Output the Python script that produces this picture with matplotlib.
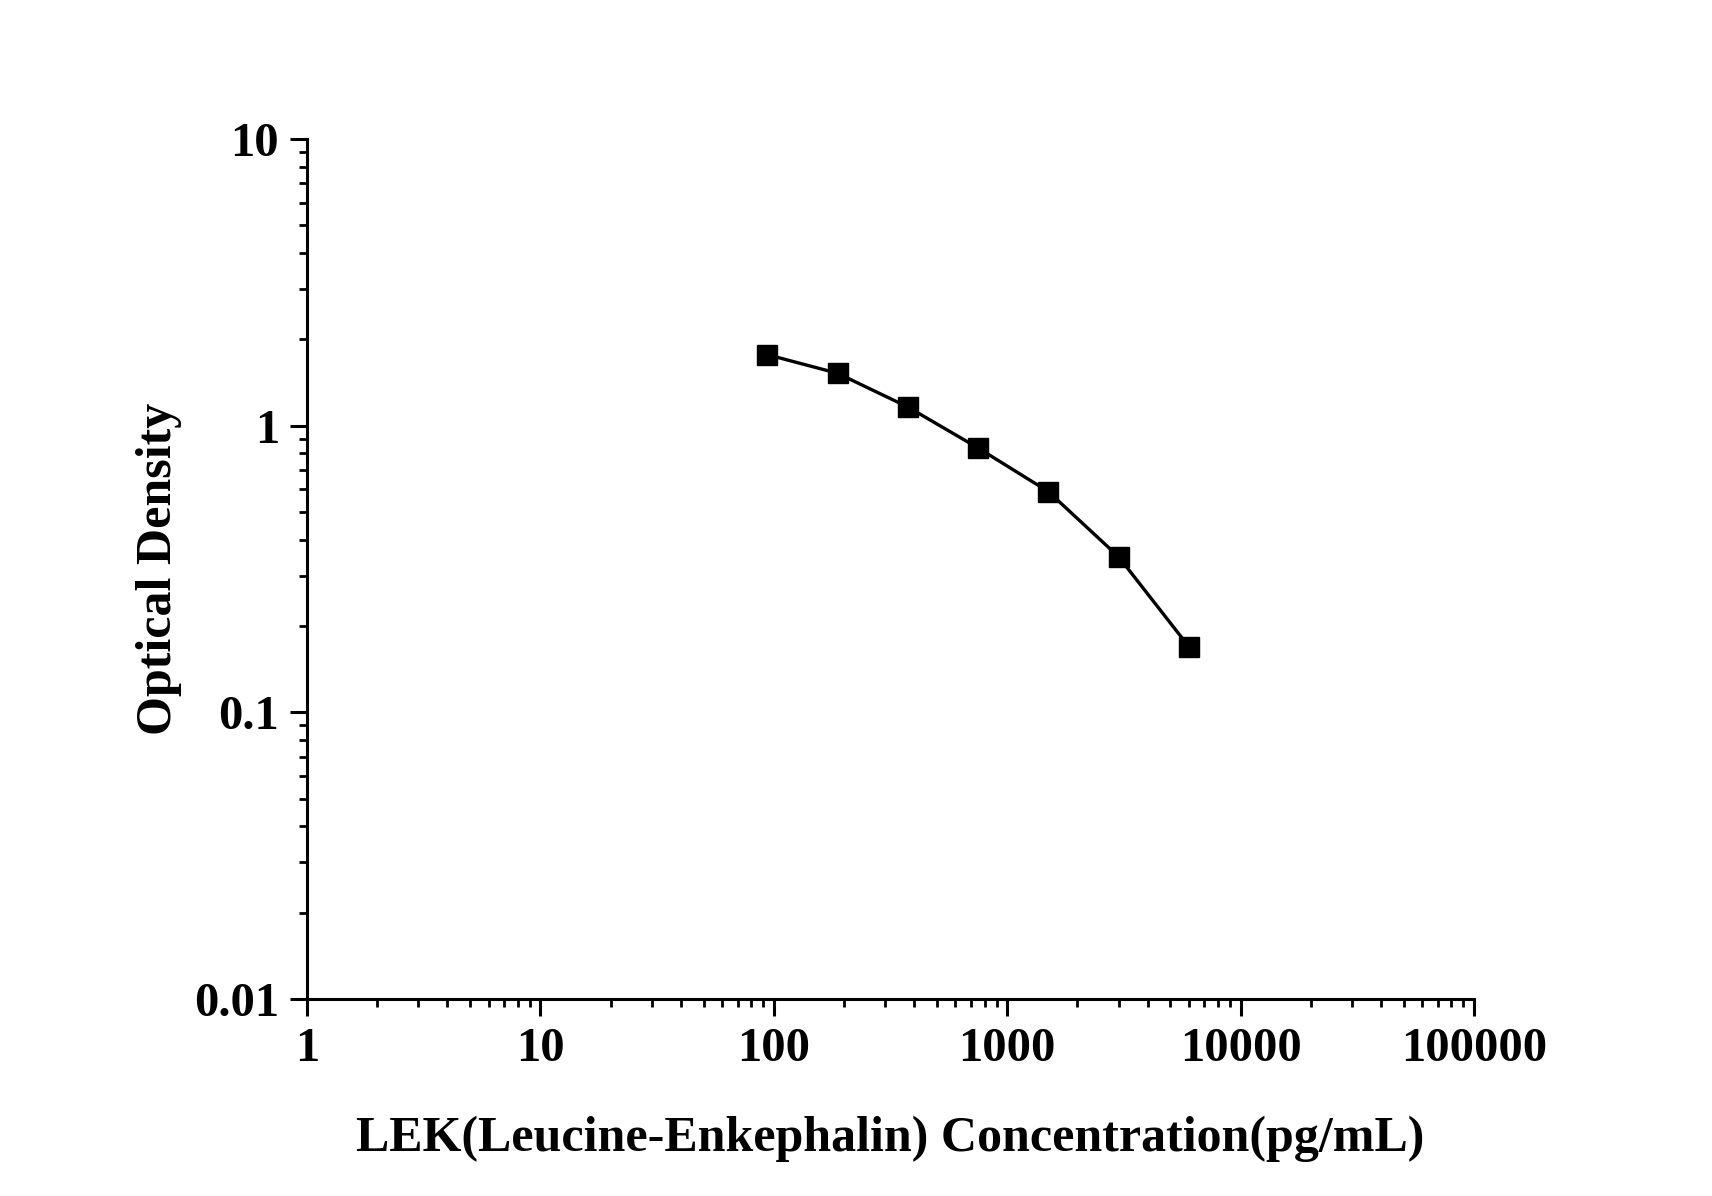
import matplotlib
matplotlib.use("Agg")
import matplotlib.pyplot as plt
from matplotlib.ticker import LogLocator, FixedLocator, FixedFormatter, NullFormatter

conc = [93.75, 187.5, 375, 750, 1500, 3000, 6000]
od = [1.769, 1.523, 1.162, 0.836, 0.589, 0.349, 0.1695]

x_ticks = [1, 10, 100, 1000, 10000, 100000]
x_labels = ["1", "10", "100", "1000", "10000", "100000"]
y_ticks = [0.01, 0.1, 1, 10]
y_labels = ["0.01", "0.1", "1", "10"]

plt.rcParams['font.family'] = ['Liberation Serif', 'DejaVu Serif']
plt.rcParams['font.weight'] = 'bold'

fig = plt.figure(figsize=(17.12, 11.96), dpi=100)
ax = fig.add_axes([0.1793, 0.1647, 0.6817, 0.7191])

ax.plot(conc, od, color='black', lw=2.4, marker='s', markersize=14,
        markerfacecolor='black', markeredgecolor='black')

ax.set_xscale('log')
ax.set_yscale('log')
ax.set_xlim(1, 100000)
ax.set_ylim(0.01, 10)

ax.xaxis.set_major_locator(FixedLocator(x_ticks))
ax.xaxis.set_major_formatter(FixedFormatter(x_labels))
ax.yaxis.set_major_locator(FixedLocator(y_ticks))
ax.yaxis.set_major_formatter(FixedFormatter(y_labels))
ax.xaxis.set_minor_locator(LogLocator(base=10, subs=range(2, 10), numticks=20))
ax.yaxis.set_minor_locator(LogLocator(base=10, subs=range(2, 10), numticks=20))
ax.xaxis.set_minor_formatter(NullFormatter())
ax.yaxis.set_minor_formatter(NullFormatter())

for s in ['top', 'right']:
    ax.spines[s].set_visible(False)
for s in ['left', 'bottom']:
    ax.spines[s].set_linewidth(2.2)

ax.tick_params(which='major', direction='out', length=12, width=2.2,
               labelsize=35, pad=8)
ax.tick_params(which='minor', direction='out', length=6, width=2.0)
for lab in ax.get_xticklabels() + ax.get_yticklabels():
    lab.set_fontweight('bold')

ax.set_xlabel('LEK(Leucine-Enkephalin) Concentration(pg/mL)', fontsize=36,
              fontweight='bold', labelpad=32)
ax.set_ylabel('Optical Density', fontsize=36, fontweight='bold', labelpad=9)

fig.savefig('out.png', dpi=100)
